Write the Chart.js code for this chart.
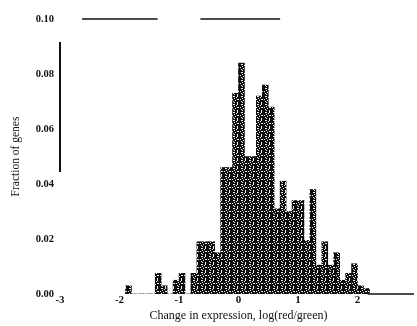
<!DOCTYPE html>
<html>
<head>
    <title>Expression change histogram</title>
    <script src="https://cdn.jsdelivr.net/npm/chart.js"></script>
    <style>
        body { margin: 0; background: #fff; }
        #wrap { width: 417px; height: 326px; }
    </style>
</head>
<body>
<div id="wrap"><canvas id="histChart" width="417" height="326"></canvas></div>
<script>
    // lower edge of each 0.1-wide bin, log(red/green)
    const binLeft = [-1.9, -1.8, -1.7, -1.6, -1.5, -1.4, -1.3, -1.2, -1.1, -1.0,
                     -0.9, -0.8, -0.7, -0.6, -0.5, -0.4, -0.3, -0.2, -0.1, 0.0,
                     0.1, 0.2, 0.3, 0.4, 0.5, 0.6, 0.7, 0.8, 0.9, 1.0,
                     1.1, 1.2, 1.3, 1.4, 1.5, 1.6, 1.7, 1.8, 1.9, 2.0, 2.1];
    // fraction of genes in each bin
    const fraction = [0.003, 0, 0, 0, 0, 0.0075, 0.003, 0, 0.005, 0.0075,
                      0, 0.0075, 0.019, 0.019, 0.019, 0.015, 0.046, 0.046, 0.073, 0.084,
                      0.050, 0.050, 0.072, 0.076, 0.068, 0.031, 0.041, 0.030, 0.034, 0.034,
                      0.0195, 0.038, 0.0105, 0.019, 0.0105, 0.015, 0.005, 0.0075, 0.011, 0.003, 0.002];
    const xTicks = [-3, -2, -1, 0, 1, 2];
    const yTicks = [0, 0.02, 0.04, 0.06, 0.08, 0.10];

    // bits of the scanned frame that survived, in data units
    const frameBits = [
        [[-2.63, 0.1], [-1.36, 0.1]],
        [[-0.64, 0.1], [0.70, 0.1]],
        [[-3, 0.0916], [-3, 0.0444]],
        [[2.17, 0], [2.95, 0]]
    ];

    // speckled halftone fill, 8x8 tile, '.' = white speck
    const speckle = [
        '#..##.##',
        '####.###',
        '##.#####',
        '.####..#',
        '###.####',
        '#.######',
        '##.##.##',
        '#####.##'
    ];
    function makePattern() {
        let c = document.createElement('canvas');
        c.width = 8; c.height = 8;
        let g = c.getContext('2d');
        g.fillStyle = '#0d0d0d';
        g.fillRect(0, 0, 8, 8);
        g.fillStyle = '#eeeeee';
        speckle.forEach((row, y) => {
            for (let x = 0; x < row.length; x++) if (row[x] == '.') g.fillRect(x, y, 1, 1);
        });
        return g.createPattern(c, 'repeat');
    }

    const framePlugin = {
        id: 'frameBits',
        afterDraw(chart) {
            let ctx = chart.ctx, xs = chart.scales.x, ys = chart.scales.y;
            ctx.save();
            ctx.strokeStyle = '#111';
            frameBits.forEach((seg, i) => {
                ctx.lineWidth = i == 2 ? 2 : 1.3;
                ctx.beginPath();
                ctx.moveTo(xs.getPixelForValue(seg[0][0]), ys.getPixelForValue(seg[0][1]));
                ctx.lineTo(xs.getPixelForValue(seg[1][0]), ys.getPixelForValue(seg[1][1]));
                ctx.stroke();
            });
            ctx.restore();
        }
    };

    const serif = 'Liberation Serif';
    let ctx = document.getElementById('histChart').getContext('2d');
    new Chart(ctx, {
        type: 'bar',
        data: {
            datasets: [{
                data: binLeft.map((b, i) => ({ x: b + 0.05, y: fraction[i] })),
                backgroundColor: makePattern(),
                borderWidth: 0,
                barPercentage: 1,
                categoryPercentage: 1
            }]
        },
        options: {
            responsive: false,
            animation: false,
            layout: { padding: { top: 19, right: 0, left: 0, bottom: 0 } },
            plugins: { legend: { display: false }, tooltip: { enabled: false } },
            scales: {
                x: {
                    type: 'linear',
                    min: -3, max: 3,
                    offset: false,
                    grid: { display: false, drawTicks: false },
                    border: { display: false },
                    afterBuildTicks: s => { s.ticks = xTicks.map(v => ({ value: v })); },
                    afterFit: s => { s.height = 32; },
                    ticks: {
                        padding: 0,
                        color: '#111',
                        maxRotation: 0,
                        font: { family: serif, size: 11, weight: 'bold' }
                    },
                    title: {
                        display: true,
                        text: 'Change in expression, log(red/green)',
                        color: '#111',
                        padding: { top: 0, bottom: 3 },
                        font: { family: serif, size: 12 }
                    }
                },
                y: {
                    min: 0, max: 0.1,
                    grid: { display: false, drawTicks: false },
                    border: { display: false },
                    afterBuildTicks: s => { s.ticks = yTicks.map(v => ({ value: v })); },
                    afterFit: s => { s.width = 60; },
                    ticks: {
                        padding: 6,
                        color: '#111',
                        callback: v => v.toFixed(2),
                        font: { family: serif, size: 10.5, weight: 'bold' }
                    },
                    title: {
                        display: true,
                        text: 'Fraction of genes',
                        color: '#111',
                        padding: { top: 9, bottom: 0 },
                        font: { family: serif, size: 11.5 }
                    }
                }
            }
        },
        plugins: [framePlugin]
    });
</script>
</body>
</html>
